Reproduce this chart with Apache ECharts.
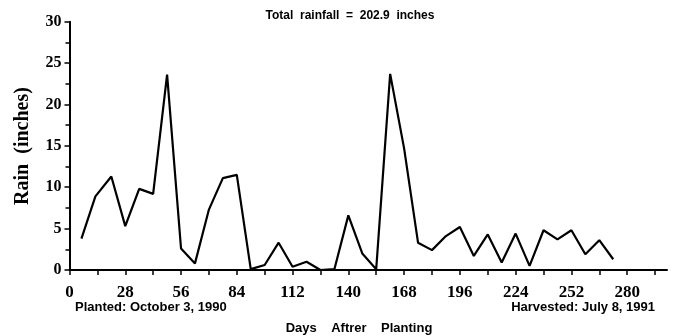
<!DOCTYPE html>
<html>
<head>
<meta charset="utf-8">
<script src="https://cdn.jsdelivr.net/npm/echarts@6/dist/echarts.min.js"></script>
<style>
html,body{margin:0;padding:0;background:#fff;}
#c{width:673px;height:336px;}
</style>
</head>
<body>
<div id="c"></div>
<script>
var days = [6,13,21,28,35,42,49,56,63,70,77,84,91,98,105,112,119,126,133,140,147,154,161,168,175,182,189,196,203,210,217,224,231,238,245,252,259,266,273];
var rain = [3.8,8.9,11.3,5.3,9.8,9.2,23.6,2.6,0.8,7.3,11.1,11.5,0.1,0.6,3.3,0.4,1.0,0,0.1,6.6,2.0,0.1,23.7,14.7,3.3,2.4,4.1,5.2,1.7,4.3,0.9,4.4,0.5,4.8,3.7,4.8,1.9,3.6,1.3];
var xTicks = [0,14,28,42,56,70,84,98,112,126,140,154,168,182,196,210,224,238,252,266,280,294];
var xLabels = [0,28,56,84,112,140,168,196,224,252,280];
var yTicks = [0,5,10,15,20,25,30];
var titleText = 'Total  rainfall  =  202.9  inches';
var yName = 'Rain  (inches)';
var xName = 'Days    Aftrer    Planting';
var plantedText = 'Planted: October 3, 1990';
var harvestedText = 'Harvested: July 8, 1991';

var chart = echarts.init(document.getElementById('c'), null, {renderer:'canvas'});
var serif = 'Liberation Serif';
var pts = days.map(function(d,i){return [d, rain[i]];});
chart.setOption({
  animation:false,
  backgroundColor:'#fff',
  grid:{left:69.5, right:6, top:21.7, bottom:66},
  xAxis:{
    type:'value', min:0, max:300,
    axisLine:{show:true, onZero:false, lineStyle:{color:'#000', width:2}},
    axisTick:{show:true, customValues:xTicks, length:5, inside:false, lineStyle:{color:'#000', width:1.5}},
    axisLabel:{customValues:xLabels, margin:14, color:'#000', fontFamily:serif, fontWeight:'bold', fontSize:17},
    splitLine:{show:false}
  },
  yAxis:{
    type:'value', min:0, max:30, interval:5,
    axisLine:{show:true, lineStyle:{color:'#000', width:2}},
    axisTick:{show:true, length:5, lineStyle:{color:'#000', width:1.5}},
    minorTick:{show:true, splitNumber:2, length:4, lineStyle:{color:'#000', width:1.5}},
    axisLabel:{margin:8, color:'#000', fontFamily:serif, fontWeight:'bold', fontSize:16},
    splitLine:{show:false}
  },
  series:[{
    type:'line', data:pts, symbol:'none',
    lineStyle:{color:'#000', width:2.2}
  }],
  graphic:[
    {type:'text', x:350, y:16, style:{text:titleText, align:'center', verticalAlign:'middle', fill:'#000', font:'bold 12px "Liberation Sans"'}},
    {type:'text', x:23, y:146, rotation:Math.PI/2, style:{text:yName, align:'center', verticalAlign:'middle', fill:'#000', font:'bold 20px "Liberation Serif"'}},
    {type:'text', x:75, y:307, style:{text:plantedText, align:'left', verticalAlign:'middle', fill:'#000', font:'bold 13px "Liberation Sans"'}},
    {type:'text', x:655, y:307, style:{text:harvestedText, align:'right', verticalAlign:'middle', fill:'#000', font:'bold 13px "Liberation Sans"'}},
    {type:'text', x:359, y:328, style:{text:xName, align:'center', verticalAlign:'middle', fill:'#000', font:'bold 13px "Liberation Sans"'}}
  ]
});
</script>
</body>
</html>
